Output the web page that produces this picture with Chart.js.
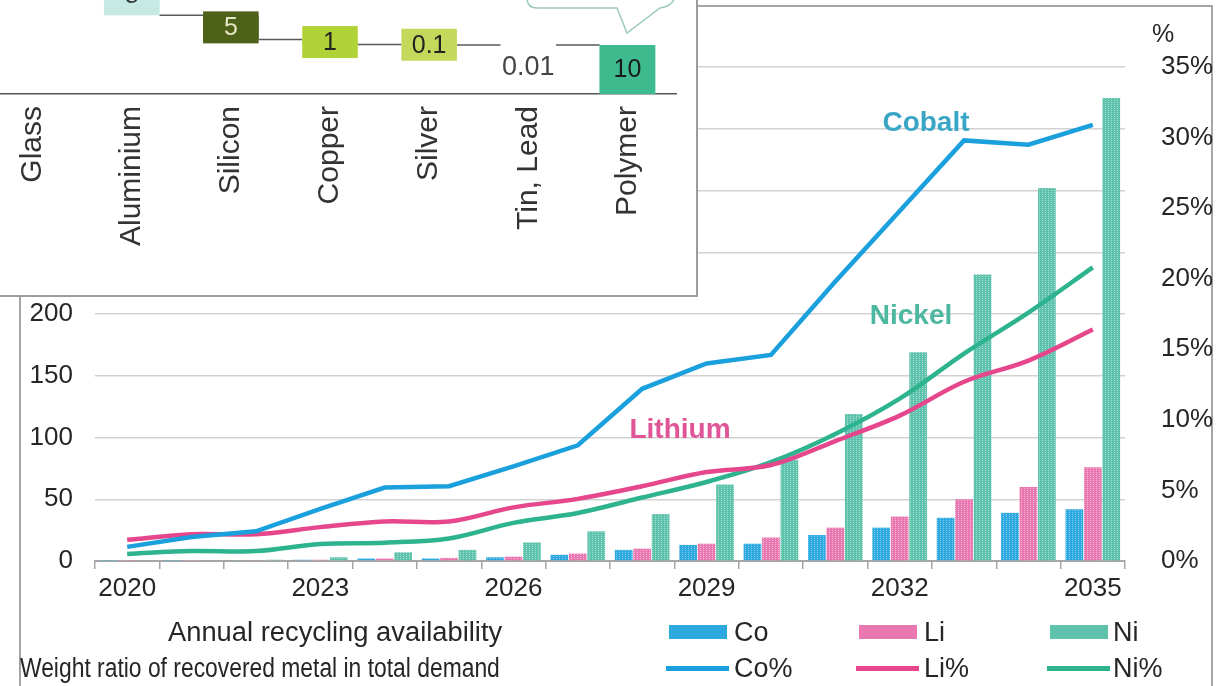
<!DOCTYPE html>
<html>
<head>
<meta charset="utf-8">
<script src="https://cdn.jsdelivr.net/npm/chart.js@4.4.1/dist/chart.umd.min.js"></script>
<style>
  html, body { margin: 0; padding: 0; background: #fff; }
  body { width: 1216px; height: 686px; position: relative; overflow: hidden;
         font-family: "Liberation Sans", Arial, sans-serif; color: #262626; }
  #frame { position: absolute; left: 19px; top: 5px; width: 1194px; height: 720px;
           border: 2px solid #a5a5a5; box-sizing: border-box; }
  #main { position: absolute; left: 0; top: 0; }
  #inset { position: absolute; left: 0; top: 0; width: 698px; height: 297px; background: #fff;
           border-right: 2px solid #9c9c9c; border-bottom: 2px solid #9c9c9c;
           box-sizing: border-box; overflow: hidden; z-index: 3; }
  #insetCanvas { position: absolute; left: -17px; top: 0; }
  .txt { position: absolute; white-space: nowrap; line-height: 1; }
  .note { font-weight: bold; font-size: 28px; transform: translate(-50%, -50%); }
  .leg { font-size: 27px; transform: translateY(-50%); }
  .sw { position: absolute; }
</style>
</head>
<body>
<div id="frame"></div>
<canvas id="main" width="1216" height="686"></canvas>
<div id="inset"><canvas id="insetCanvas" width="694" height="295"></canvas></div>

<div class="txt" style="left:1163px; top:33px; font-size:25px; transform:translate(-50%,-50%);">%</div>
<div class="txt note" style="left:926px; top:122px; color:#3aa6c6;">Cobalt</div>
<div class="txt note" style="left:911px; top:315px; color:#4db89f;">Nickel</div>
<div class="txt note" style="left:680px; top:429px; color:#df5597;">Lithium</div>
<div id="legend"></div>

<script>
// main chart: recycled metal per year (left axis) and share of demand (right axis, %)
var years = ['2020', '2021', '2022', '2023', '2024', '2025', '2026', '2027',
             '2028', '2029', '2030', '2031', '2032', '2033', '2034', '2035'];
var shownYears = ['2020', '2023', '2026', '2029', '2032', '2035'];

var coRecycled = [0.3, 0.3, 0.5, 1, 2, 2, 3, 5, 9, 13, 14, 21, 27, 35, 39, 42];
var liRecycled = [0.3, 0.3, 0.5, 1, 2, 2.5, 3.5, 6, 10, 14, 19, 27, 36, 50, 60, 76];
var niRecycled = [0.5, 0.5, 1, 3, 7, 9, 15, 24, 38, 62, 82, 119, 169, 232, 302, 375];

var coShare = [1.0, 1.7, 2.1, 3.7, 5.2, 5.3, 6.7, 8.2, 12.2, 14.0, 14.6, 19.8, 24.8, 29.8, 29.5, 30.9];
var liShare = [1.5, 1.9, 1.9, 2.4, 2.8, 2.8, 3.8, 4.4, 5.3, 6.3, 6.8, 8.5, 10.3, 12.7, 14.2, 16.4];
var niShare = [0.5, 0.7, 0.7, 1.2, 1.3, 1.6, 2.7, 3.4, 4.5, 5.6, 7.0, 9.0, 11.5, 14.7, 17.6, 20.8];

var leftMax = 400, leftStep = 50;
var rightMax = 35, rightStep = 5;

var legendRow1 = 'Annual recycling availability';
var legendRow2 = 'Weight ratio of recovered metal in total demand';

// inset: material shares of a module (waterfall)
var materials = ['Glass', 'Aluminium', 'Silicon', 'Copper', 'Silver', 'Tin, Lead', 'Polymer'];
var materialShare = [76, 8, 5, 1, 0.1, 0.01, 10];
var materialText = ['76', '8', '5', '1', '0.1', '0.01', '10'];

// colours
var barCol = { Co: '#2ea9df', Li: '#ea78b0', Ni: '#5fc2ad' };
var barLight = { Co: '#86cff0', Li: '#f6b8d6', Ni: '#a6ded2' };
var lineCol = { Co: '#1aa0dc', Li: '#e6468c', Ni: '#2db38e' };
var matCol = ['#a8dcd2', '#c6eae3', '#4d6119', '#b0d236', '#c4d95c', '#c8d850', '#3dba8e'];
var matTextCol = ['#333', '#333', '#e4e4c4', '#222', '#222', '#444', '#1a1a1a'];

Chart.defaults.font.family = '"Liberation Sans", Arial, sans-serif';
Chart.defaults.color = '#262626';

function stripes(base, light) {
    var c = document.createElement('canvas');
    c.width = 3; c.height = 2;
    var g = c.getContext('2d');
    g.fillStyle = base; g.fillRect(0, 0, 3, 2);
    g.fillStyle = light; g.fillRect(1, 0, 1, 1);
    return g.createPattern(c, 'repeat');
}

function barSet(name, values) {
    return {
        type: 'bar', label: name, data: values, yAxisID: 'y', order: 2,
        backgroundColor: stripes(barCol[name], barLight[name]),
        categoryPercentage: 0.86, barPercentage: 0.96
    };
}
function lineSet(name, values, tension) {
    return {
        type: 'line', label: name + '%', data: values, yAxisID: 'y1', order: 1,
        borderColor: lineCol[name], borderWidth: 4.5, pointRadius: 0, tension: tension, fill: false
    };
}

new Chart(document.getElementById('main').getContext('2d'), {
    type: 'bar',
    data: {
        labels: years,
        datasets: [
            barSet('Co', coRecycled), barSet('Li', liRecycled), barSet('Ni', niRecycled),
            lineSet('Co', coShare, 0), lineSet('Li', liShare, 0.35), lineSet('Ni', niShare, 0.35)
        ]
    },
    options: {
        responsive: false,
        animation: false,
        layout: { padding: { top: 67, left: 0, right: 0, bottom: 0 } },
        plugins: { legend: { display: false }, tooltip: { enabled: false } },
        scales: {
            x: {
                offset: true,
                grid: { display: true, offset: true, drawOnChartArea: false, drawTicks: true,
                        tickLength: 8, color: '#a6a6a6', lineWidth: 1.5 },
                border: { display: true, color: '#a6a6a6', width: 2 },
                ticks: {
                    autoSkip: false, maxRotation: 0, padding: 4,
                    font: { size: 26 },
                    callback: function (v, i) {
                        var lab = years[i];
                        return shownYears.indexOf(lab) >= 0 ? lab : '';
                    }
                },
                afterFit: function (s) { s.height = 125; }
            },
            y: {
                position: 'left', min: 0, max: leftMax,
                grid: { color: '#d2d2d2', lineWidth: 1.5, drawTicks: false },
                border: { display: false },
                ticks: { stepSize: leftStep, padding: 22, font: { size: 26 } },
                afterFit: function (s) { s.width = 95; }
            },
            y1: {
                position: 'right', min: 0, max: rightMax,
                grid: { display: false },
                border: { display: false },
                ticks: { stepSize: rightStep, padding: 28, font: { size: 26 },
                         callback: function (v) { return v + '%'; } },
                afterFit: function (s) { s.width = 91; }
            }
        }
    }
});

// legend below the plot, two rows
(function () {
    var box = document.getElementById('legend');
    function add(html) { box.insertAdjacentHTML('beforeend', html); }
    add('<div class="txt leg" id="row1" style="left:168px; top:632px;">' + legendRow1 + '</div>');
    add('<div class="txt leg" id="row2" style="left:20px; top:668px;">' + legendRow2 + '</div>');
    var names = ['Co', 'Li', 'Ni'];
    var swatchX = [669, 859, 1050];
    var textX = [734, 924, 1113];
    names.forEach(function (n, i) {
        add('<div class="sw" style="left:' + swatchX[i] + 'px; top:625px; width:58px; height:14px; background:' + barCol[n] + ';"></div>');
        add('<div class="txt leg" style="left:' + textX[i] + 'px; top:632px;">' + n + '</div>');
        add('<div class="sw" style="left:' + (swatchX[i] - 3) + 'px; top:666px; width:63px; height:5px; background:' + lineCol[n] + ';"></div>');
        add('<div class="txt leg" style="left:' + textX[i] + 'px; top:668px;">' + n + '%</div>');
    });
    function fit(id, w) {
        var el = document.getElementById(id);
        el.style.transformOrigin = 'left center';
        el.style.transform = 'translateY(-50%) scaleX(' + (w / el.offsetWidth) + ')';
    }
    fit('row1', 334);
    fit('row2', 480);
})();

// inset waterfall
var remaining = materialShare.reduce(function (a, b) { return a + b; }, 0);
var ranges = materialShare.map(function (v) {
    var r = [remaining - v, remaining];
    remaining -= v;
    return r;
});

var insetDecor = {
    id: 'insetDecor',
    beforeDatasetsDraw: function (chart) {
        var ctx = chart.ctx, meta = chart.getDatasetMeta(0), ys = chart.scales.y;
        ctx.save();
        ctx.strokeStyle = '#5a5a5a';
        ctx.lineWidth = 1.5;
        for (var i = 0; i < meta.data.length - 1; i++) {
            var a = meta.data[i], b = meta.data[i + 1];
            var lvl = ys.getPixelForValue(ranges[i][0]);
            ctx.beginPath();
            ctx.moveTo(a.x + a.width / 2, lvl);
            ctx.lineTo(b.x - b.width / 2, lvl);
            ctx.stroke();
        }
        ctx.restore();
    },
    afterDatasetsDraw: function (chart) {
        var ctx = chart.ctx, meta = chart.getDatasetMeta(0);
        ctx.save();
        ctx.textAlign = 'center';
        ctx.textBaseline = 'middle';
        meta.data.forEach(function (bar, i) {
            var cy = (bar.y + bar.base) / 2;
            var h = Math.abs(bar.base - bar.y);
            if (materialShare[i] < 0.05) {
                ctx.fillStyle = matTextCol[i];
                ctx.font = '27px "Liberation Sans", Arial, sans-serif';
                ctx.fillText(materialText[i], bar.x, cy + 23);
                return;
            }
            var bh = Math.max(h, 32);
            ctx.fillStyle = matCol[i];
            ctx.fillRect(bar.x - bar.width / 2, cy - bh / 2, bar.width, bh);
            ctx.fillStyle = matTextCol[i];
            ctx.font = '25px "Liberation Sans", Arial, sans-serif';
            ctx.fillText(materialText[i], bar.x, cy + 1);
        });
        // speech bubble (cut by the top edge)
        var ox = 17;
        ctx.strokeStyle = '#9cc9bf';
        ctx.lineWidth = 1.5;
        ctx.fillStyle = '#fff';
        ctx.beginPath();
        ctx.moveTo(527 + ox, -20);
        ctx.lineTo(527 + ox, -2);
        ctx.quadraticCurveTo(527 + ox, 8, 537 + ox, 8);
        ctx.lineTo(617 + ox, 8);
        ctx.lineTo(627 + ox, 33);
        ctx.lineTo(660 + ox, 8);
        ctx.quadraticCurveTo(675 + ox, 6, 676 + ox, -8);
        ctx.lineTo(676 + ox, -20);
        ctx.fill();
        ctx.stroke();
        ctx.restore();
    }
};

new Chart(document.getElementById('insetCanvas').getContext('2d'), {
    type: 'bar',
    data: {
        labels: materials,
        datasets: [{
            data: ranges,
            backgroundColor: matCol,
            categoryPercentage: 1, barPercentage: 0.56
        }]
    },
    options: {
        responsive: false,
        animation: false,
        layout: { padding: 0 },
        plugins: { legend: { display: false }, tooltip: { enabled: false } },
        scales: {
            x: {
                grid: { display: false },
                border: { display: true, color: '#555', width: 1.5 },
                ticks: { minRotation: 90, maxRotation: 90, autoSkip: false, padding: 4,
                         color: '#333', font: { size: 30 } },
                afterFit: function (s) { s.height = 201; }
            },
            y: { display: false, min: 0, max: 19.2 }
        }
    },
    plugins: [insetDecor]
});
</script>
</body>
</html>
